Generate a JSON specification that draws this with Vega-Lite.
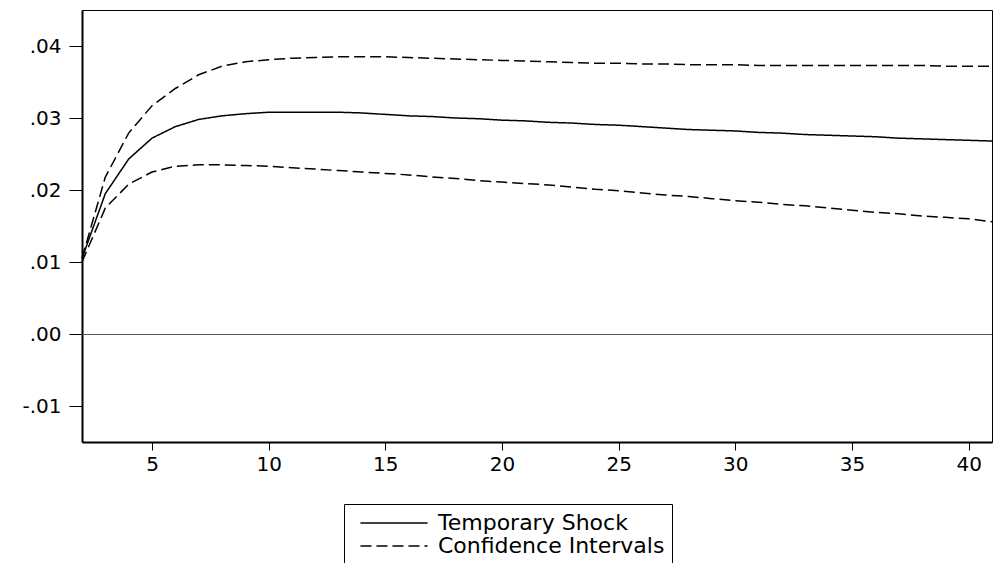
{
  "$schema": "https://vega.github.io/schema/vega-lite/v6.json",
  "width": 910,
  "height": 432,
  "autosize": {"type": "none"},
  "padding": {"left": 82, "top": 10, "right": 1, "bottom": 121},
  "background": "white",
  "config": {
    "font": "DejaVu Sans",
    "view": {"stroke": "black", "strokeWidth": 1},
    "axis": {
      "grid": false,
      "domainColor": "black",
      "domainWidth": 2,
      "tickColor": "black",
      "tickWidth": 1,
      "labelColor": "black",
      "labelFont": "DejaVu Sans",
      "labelFontSize": 20,
      "title": null
    },
    "legend": {
      "orient": "none",
      "legendX": 262,
      "legendY": 494,
      "strokeColor": "black",
      "strokeWidth": 1,
      "padding": 7,
      "symbolOffset": 31,
      "symbolType": "M-3.05,0H3.05",
      "symbolSize": 484,
      "symbolStrokeWidth": 1.5,
      "symbolStrokeColor": "black",
      "labelFontSize": 22,
      "labelColor": "black",
      "labelFont": "DejaVu Sans",
      "labelOffset": 32,
      "labelLimit": 0,
      "rowPadding": -1,
      "title": null
    }
  },
  "data": {
    "values": [
      {"h": 2, "shock": 0.0105, "upper": 0.0105, "lower": 0.0100},
      {"h": 3, "shock": 0.0195, "upper": 0.0218, "lower": 0.0175},
      {"h": 4, "shock": 0.0243, "upper": 0.0279, "lower": 0.0208},
      {"h": 5, "shock": 0.0272, "upper": 0.0317, "lower": 0.0225},
      {"h": 6, "shock": 0.0288, "upper": 0.0341, "lower": 0.0233},
      {"h": 7, "shock": 0.0298, "upper": 0.0360, "lower": 0.0235},
      {"h": 8, "shock": 0.0303, "upper": 0.0372, "lower": 0.0235},
      {"h": 9, "shock": 0.0306, "upper": 0.0378, "lower": 0.0234},
      {"h": 10, "shock": 0.0308, "upper": 0.0381, "lower": 0.0233},
      {"h": 11, "shock": 0.0308, "upper": 0.0383, "lower": 0.0231},
      {"h": 12, "shock": 0.0308, "upper": 0.0384, "lower": 0.0229},
      {"h": 13, "shock": 0.0308, "upper": 0.0385, "lower": 0.0227},
      {"h": 14, "shock": 0.0307, "upper": 0.0385, "lower": 0.0225},
      {"h": 15, "shock": 0.0305, "upper": 0.0385, "lower": 0.0223},
      {"h": 16, "shock": 0.0303, "upper": 0.0384, "lower": 0.0221},
      {"h": 17, "shock": 0.0302, "upper": 0.0383, "lower": 0.0218},
      {"h": 18, "shock": 0.0300, "upper": 0.0382, "lower": 0.0216},
      {"h": 19, "shock": 0.0299, "upper": 0.0381, "lower": 0.0213},
      {"h": 20, "shock": 0.0297, "upper": 0.0380, "lower": 0.0211},
      {"h": 21, "shock": 0.0296, "upper": 0.0379, "lower": 0.0209},
      {"h": 22, "shock": 0.0294, "upper": 0.0378, "lower": 0.0207},
      {"h": 23, "shock": 0.0293, "upper": 0.0377, "lower": 0.0204},
      {"h": 24, "shock": 0.0291, "upper": 0.0376, "lower": 0.0201},
      {"h": 25, "shock": 0.0290, "upper": 0.0376, "lower": 0.0199},
      {"h": 26, "shock": 0.0288, "upper": 0.0375, "lower": 0.0196},
      {"h": 27, "shock": 0.0286, "upper": 0.0375, "lower": 0.0193},
      {"h": 28, "shock": 0.0284, "upper": 0.0374, "lower": 0.0191},
      {"h": 29, "shock": 0.0283, "upper": 0.0374, "lower": 0.0188},
      {"h": 30, "shock": 0.0282, "upper": 0.0374, "lower": 0.0185},
      {"h": 31, "shock": 0.0280, "upper": 0.0373, "lower": 0.0183},
      {"h": 32, "shock": 0.0279, "upper": 0.0373, "lower": 0.0180},
      {"h": 33, "shock": 0.0277, "upper": 0.0373, "lower": 0.0178},
      {"h": 34, "shock": 0.0276, "upper": 0.0373, "lower": 0.0175},
      {"h": 35, "shock": 0.0275, "upper": 0.0373, "lower": 0.0172},
      {"h": 36, "shock": 0.0274, "upper": 0.0373, "lower": 0.0169},
      {"h": 37, "shock": 0.0272, "upper": 0.0373, "lower": 0.0167},
      {"h": 38, "shock": 0.0271, "upper": 0.0373, "lower": 0.0164},
      {"h": 39, "shock": 0.0270, "upper": 0.0372, "lower": 0.0162},
      {"h": 40, "shock": 0.0269, "upper": 0.0372, "lower": 0.0160},
      {"h": 41, "shock": 0.0268, "upper": 0.0372, "lower": 0.0156}
    ]
  },
  "encoding": {
    "x": {
      "field": "h",
      "type": "quantitative",
      "scale": {"domain": [2, 41], "nice": false, "zero": false},
      "axis": {"values": [5, 10, 15, 20, 25, 30, 35, 40], "tickSize": 8, "labelPadding": 4, "labelFlush": false}
    }
  },
  "layer": [
    {
      "data": {"values": [{"z": 0}]},
      "mark": {"type": "rule", "color": "#555555", "strokeWidth": 1, "yOffset": 0.5},
      "encoding": {
        "x": null,
        "y": {"field": "z", "type": "quantitative"}
      }
    },
    {
      "mark": {"type": "line", "color": "black", "strokeWidth": 1.5},
      "encoding": {
        "y": {
          "field": "shock",
          "type": "quantitative",
          "scale": {"domain": [-0.015, 0.045], "nice": false, "zero": false},
          "axis": {
            "values": [-0.01, 0, 0.01, 0.02, 0.03, 0.04],
            "labelExpr": "(datum.value < 0 ? '-' : '') + replace(format(abs(datum.value), '.2f'), '0.', '.')",
            "tickSize": 13,
            "labelPadding": 8
          }
        },
        "strokeDash": {
          "datum": "Temporary Shock",
          "type": "nominal",
          "scale": {"domain": ["Temporary Shock", "Confidence Intervals"], "range": [[1, 0], [11, 5]]}
        }
      }
    },
    {
      "mark": {"type": "line", "color": "black", "strokeWidth": 1.5},
      "encoding": {
        "y": {"field": "upper", "type": "quantitative"},
        "strokeDash": {"datum": "Confidence Intervals", "type": "nominal"}
      }
    },
    {
      "mark": {"type": "line", "color": "black", "strokeWidth": 1.5},
      "encoding": {
        "y": {"field": "lower", "type": "quantitative"},
        "strokeDash": {"datum": "Confidence Intervals", "type": "nominal"}
      }
    }
  ]
}
